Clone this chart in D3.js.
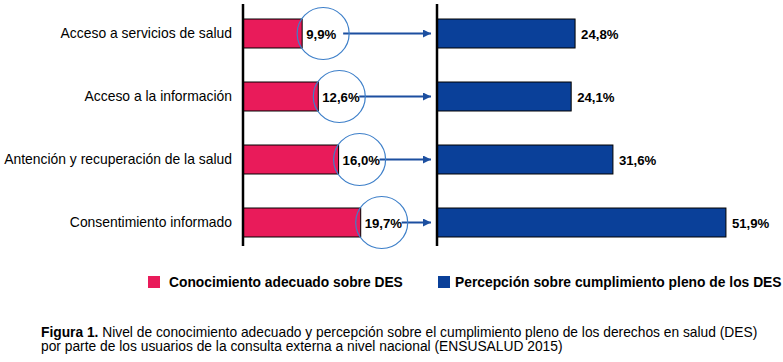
<!DOCTYPE html>
<html>
<head>
<meta charset="utf-8">
<script src="https://cdn.jsdelivr.net/npm/d3@7"></script>
<style>
  body { margin: 0; background: #fff; }
  svg { display: block; font-family: "Liberation Sans", Arial, sans-serif; }
</style>
</head>
<body>
<script>
// data
var categories = ["Acceso a servicios de salud", "Acceso a la información",
                  "Antención y recuperación de la salud", "Consentimiento informado"];
var conocimiento = [9.9, 12.6, 16.0, 19.7];
var percepcion = [24.8, 24.1, 31.6, 51.9];
var seriesNames = ["Conocimiento adecuado sobre DES", "Percepción sobre cumplimiento pleno de los DES"];
var captionBold = "Figura 1.";
var captionLines = [" Nivel de conocimiento adecuado y percepción sobre el cumplimiento pleno de los derechos en salud (DES)",
                    "por parte de los usuarios de la consulta externa a nivel nacional (ENSUSALUD 2015)"];

var fmt = function (v) { return d3.format(".1f")(v).replace(".", ",") + "%"; };

var width = 783, height = 362;
var pink = "#e91b5a", blue = "#0a4099", ring = "#3d7fc9", arrowCol = "#1c4fa0";

var svg = d3.select("body").append("svg")
            .attr("width", width)
            .attr("height", height);

// shrink/grow a text node so it spans a given width
function fitWidth(sel, w) {
    var n = sel.node(), fs = +sel.attr("font-size");
    sel.attr("font-size", fs * w / n.getComputedTextLength());
}

svg.append("defs").append("marker")
    .attr("id", "head")
    .attr("viewBox", "0 0 10 10")
    .attr("refX", 10).attr("refY", 5)
    .attr("markerWidth", 5).attr("markerHeight", 4)
    .attr("markerUnits", "strokeWidth")
    .attr("orient", "auto")
    .append("path")
    .attr("d", "M0,0L10,5L0,10Z")
    .attr("fill", arrowCol);

var y = d3.scaleBand().domain(categories).range([2, 254]).paddingInner(0.54).paddingOuter(0.27);
var xL = d3.scaleLinear().domain([0, 20]).range([243, 362.5]);
var xR = d3.scaleLinear().domain([0, 52]).range([437, 726.5]);

// category labels
svg.append("g")
   .attr("transform", "translate(232,0)")
   .call(d3.axisLeft(y).tickSize(0).tickPadding(0))
   .call(function (g) { g.select(".domain").remove(); })
   .selectAll("text")
   .attr("font-family", "Liberation Sans, Arial, sans-serif")
   .attr("font-size", 13.9)
   .attr("fill", "#000");

// left bars
svg.append("g").selectAll("rect")
   .data(conocimiento).join("rect")
   .attr("x", xL(0))
   .attr("y", function (d, i) { return y(categories[i]); })
   .attr("width", function (d) { return xL(d) - xL(0); })
   .attr("height", y.bandwidth())
   .attr("fill", pink)
   .attr("stroke", "#000")
   .attr("stroke-width", 1);

// circles, arrows and values
var r = 26;
var cx = function (d) { return xL(d) + 21; };
var cy = function (d, i) { return y(categories[i]) + y.bandwidth() / 2; };

svg.append("g").selectAll("line")
   .data(conocimiento).join("line")
   .attr("x1", function (d) { return cx(d) + 20; })
   .attr("x2", xR(0) - 6)
   .attr("y1", cy).attr("y2", cy)
   .attr("stroke", arrowCol)
   .attr("stroke-width", 2)
   .attr("marker-end", "url(#head)");

svg.append("g").selectAll("circle")
   .data(conocimiento).join("circle")
   .attr("cx", cx).attr("cy", cy).attr("r", r)
   .attr("fill", "none")
   .attr("stroke", ring)
   .attr("stroke-width", 1.2);

svg.append("g").selectAll("text")
   .data(conocimiento).join("text")
   .attr("x", function (d) { return xL(d) + 4; })
   .attr("y", function (d, i) { return cy(d, i) + 5; })
   .attr("font-size", 13.2)
   .attr("font-weight", "bold")
   .text(fmt);

// right bars
svg.append("g").selectAll("rect")
   .data(percepcion).join("rect")
   .attr("x", xR(0))
   .attr("y", function (d, i) { return y(categories[i]); })
   .attr("width", function (d) { return xR(d) - xR(0); })
   .attr("height", y.bandwidth())
   .attr("fill", blue)
   .attr("stroke", "#000")
   .attr("stroke-width", 1);

svg.append("g").selectAll("text")
   .data(percepcion).join("text")
   .attr("x", function (d) { return xR(d) + 6; })
   .attr("y", function (d, i) { return cy(d, i) + 5; })
   .attr("font-size", 13.2)
   .attr("font-weight", "bold")
   .text(fmt);

// axis lines
[xL(0), xR(0)].forEach(function (x0) {
    svg.append("line")
       .attr("x1", x0).attr("x2", x0)
       .attr("y1", 4).attr("y2", 246)
       .attr("stroke", "#000")
       .attr("stroke-width", 2.5);
});

// legend
var leg = [{x: 148, c: pink, w: 234}, {x: 438, c: blue, w: 327}];
leg.forEach(function (l, i) {
    svg.append("rect")
       .attr("x", l.x).attr("y", 276)
       .attr("width", 12).attr("height", 12)
       .attr("fill", l.c);
    var t = svg.append("text")
       .attr("x", l.x + (i ? 17 : 21)).attr("y", 287)
       .attr("font-size", 14)
       .attr("font-weight", "bold")
       .text(seriesNames[i]);
    fitWidth(t, l.w);
});

// caption
var cap = svg.append("text").attr("x", 41).attr("y", 337).attr("font-size", 13);
cap.append("tspan").attr("font-weight", "bold").text(captionBold);
cap.append("tspan").text(captionLines[0]);
fitWidth(cap, 717);
var cap2 = svg.append("text").attr("x", 41).attr("y", 351).attr("font-size", 13).text(captionLines[1]);
fitWidth(cap2, 522);
</script>
</body>
</html>
